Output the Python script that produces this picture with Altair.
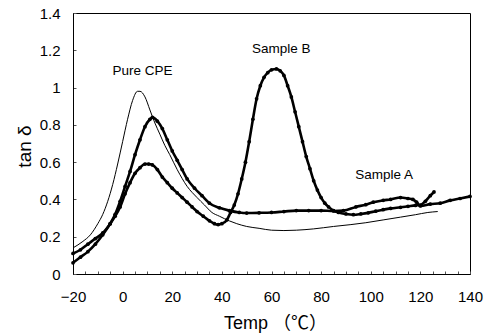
import altair as alt
import pandas as pd

# ---- data ----
cpe_T = [-20, -16, -13, -10, -8, -6, -4, -2, 0, 2, 4, 6, 7, 9, 11, 13, 15, 17, 19, 22, 26, 30, 33,
         36, 39, 43, 46, 50, 55, 60, 65, 70, 77, 85, 92, 98, 105, 112, 118, 123, 127]
cpe_v = [0.14, 0.175, 0.21, 0.27, 0.32, 0.39, 0.48, 0.59, 0.71, 0.83, 0.93, 0.98, 0.98, 0.95, 0.88,
         0.81, 0.75, 0.69, 0.64, 0.56, 0.47, 0.41, 0.37, 0.33, 0.31, 0.285, 0.27, 0.255, 0.245, 0.235,
         0.233, 0.235, 0.242, 0.255, 0.265, 0.275, 0.29, 0.305, 0.318, 0.33, 0.335]

a_T = [-20, -17, -14, -11, -8, -5, -3, -1, 1, 3, 5, 7, 9, 11, 12, 14, 16, 18, 20, 22, 24, 26, 29,
       32, 35, 39, 43, 47, 50, 55, 60, 65, 70, 75, 80, 85, 89, 94, 98, 101, 105, 108, 112, 115, 117,
       118.5, 120, 124, 128, 132, 136, 140]
a_v = [0.06, 0.09, 0.12, 0.16, 0.21, 0.27, 0.32, 0.39, 0.47, 0.55, 0.64, 0.72, 0.79, 0.83, 0.84,
       0.82, 0.78, 0.72, 0.66, 0.61, 0.56, 0.51, 0.46, 0.42, 0.38, 0.355, 0.34, 0.33, 0.327, 0.328,
       0.33, 0.335, 0.34, 0.34, 0.34, 0.338, 0.34, 0.36, 0.372, 0.385, 0.395, 0.40, 0.41, 0.405,
       0.40, 0.385, 0.365, 0.375, 0.38, 0.395, 0.405, 0.416]

b_T = [-20, -17, -14, -11, -8, -5, -3, -1, 1, 3, 5, 7, 9, 10.5, 12, 14, 16, 18, 20, 22, 24, 26,
       28, 30, 32.5, 35, 37, 38.5, 40, 42, 43.5, 45, 46.5, 48, 49.5, 51, 52.5, 54, 55.5, 57, 58.5,
       60, 62, 63.5, 65, 66.5, 68, 69.5, 71, 72.5, 74, 75.5, 77, 78.5, 80, 81.5, 83, 85, 87, 90, 93,
       96, 99, 102, 105, 108, 112, 115, 118, 120, 122, 124, 125.5]
b_v = [0.11, 0.13, 0.16, 0.19, 0.22, 0.27, 0.31, 0.36, 0.43, 0.49, 0.54, 0.57, 0.59, 0.59, 0.585,
       0.56, 0.52, 0.49, 0.46, 0.435, 0.41, 0.385, 0.36, 0.335, 0.31, 0.285, 0.27, 0.265, 0.27,
       0.29, 0.33, 0.37, 0.43, 0.51, 0.60, 0.71, 0.83, 0.94, 1.01, 1.055, 1.08, 1.095, 1.10, 1.09,
       1.065, 1.01, 0.95, 0.87, 0.79, 0.71, 0.63, 0.565, 0.50, 0.45, 0.41, 0.38, 0.36, 0.34, 0.33,
       0.322, 0.318, 0.322, 0.328, 0.337, 0.345, 0.352, 0.358, 0.363, 0.368, 0.37, 0.39, 0.42, 0.44]

label_text = ["Pure CPE", "Sample B", "Sample A"]
label_T = [8.0, 63.9, 105.4]
label_v = [1.089, 1.206, 0.533]

x_ticks = [-20, 0, 20, 40, 60, 80, 100, 120, 140]
x_minor = [-20, -15, -10, -5, 0, 5, 10, 15, 20, 25, 30, 35, 40, 45, 50, 55, 60, 65, 70, 75, 80,
           85, 90, 95, 100, 105, 110, 115, 120, 125, 130, 135, 140]
y_ticks = [0, 0.2, 0.4, 0.6, 0.8, 1, 1.2, 1.4]

FONT = "Liberation Sans, Arial, Noto Sans CJK JP"

cpe = pd.DataFrame({"T": cpe_T, "v": cpe_v})
ab = pd.concat([
    pd.DataFrame({"T": a_T, "v": a_v, "s": "Sample A"}),
    pd.DataFrame({"T": b_T, "v": b_v, "s": "Sample B"}),
])
labels = pd.DataFrame({"T": label_T, "v": label_v, "t": label_text})

xs = alt.Scale(domain=[-20, 140], nice=False, zero=False)
ys = alt.Scale(domain=[0, 1.4], nice=False, zero=False)

x_main = alt.Axis(orient="bottom", values=x_ticks, ticks=False, domain=True, domainColor="black",
                  grid=False, labelFont=FONT, labelFontSize=15, labelColor="black",
                  labelPadding=15, labelFlush=False, labelOverlap=False,
                  title="Temp （℃）", titleFont=FONT, titleFontSize=18, titleFontWeight="normal",
                  titleColor="black", titleX=202, titleY=54, titleAlign="center",
                  titleBaseline="alphabetic")
y_main = alt.Axis(orient="left", values=y_ticks, ticks=False, domain=True, domainColor="black",
                  grid=False, labelExpr="format(datum.value, '~g')",
                  labelFont=FONT, labelFontSize=15, labelColor="black", labelPadding=13,
                  labelFlush=False, labelOverlap=False,
                  title="tan δ", titleFont=FONT, titleFontSize=19, titleFontWeight="normal",
                  titleColor="black", titleAngle=270, titleX=-43, titleY=133,
                  titleAlign="center", titleBaseline="alphabetic")

ticks = alt.Chart(cpe).mark_line(opacity=0).encode(
    x=alt.X("T:Q", scale=xs, axis=alt.Axis(values=x_minor, labels=False, ticks=True,
                                           tickSize=3, offset=-3, tickColor="#555",
                                           tickWidth=1, domain=False, grid=False, title=None,
                                           orient="bottom")),
    y=alt.Y("v:Q", scale=ys, axis=alt.Axis(values=y_ticks, labels=False, ticks=True,
                                           tickSize=3, offset=-3, tickColor="#555",
                                           tickWidth=1, domain=False, grid=False, title=None,
                                           orient="left")),
)

cpe_line = alt.Chart(cpe).mark_line(color="black", strokeWidth=1, interpolate="monotone").encode(
    x=alt.X("T:Q", scale=xs, axis=x_main),
    y=alt.Y("v:Q", scale=ys, axis=y_main),
)

ab_line = alt.Chart(ab).mark_line(color="black", strokeWidth=2.6, interpolate="monotone").encode(
    x=alt.X("T:Q", scale=xs, axis=None),
    y=alt.Y("v:Q", scale=ys, axis=None),
    detail="s:N",
)

ab_pts = alt.Chart(ab).mark_circle(color="black", size=14, opacity=1).encode(
    x=alt.X("T:Q", scale=xs, axis=None),
    y=alt.Y("v:Q", scale=ys, axis=None),
)

txt = alt.Chart(labels).mark_text(font=FONT, fontSize=13.5, color="black").encode(
    x=alt.X("T:Q", scale=xs, axis=None),
    y=alt.Y("v:Q", scale=ys, axis=None),
    text="t:N",
)

chart = alt.layer(ticks, cpe_line, ab_line, ab_pts, txt).resolve_axis(
    x="independent", y="independent"
).properties(
    width=397, height=261,
    padding={"left": 73, "top": 13, "right": 19, "bottom": 59},
    autosize=alt.AutoSizeParams(type="none"),
    background="white",
).configure_view(stroke="black", strokeWidth=1)

chart.save("out.html", embed_options={"renderer": "svg", "actions": False})
